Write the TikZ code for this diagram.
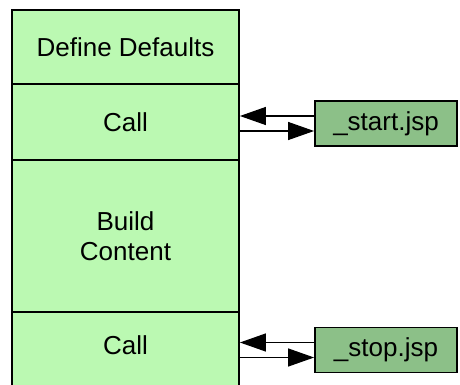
\documentclass[tikz,border=0pt]{standalone}
\usepackage{fontspec}
\setmainfont{Liberation Sans}
\usetikzlibrary{arrows.meta}
\definecolor{lightg}{RGB}{187,249,178}
\definecolor{darkg}{RGB}{140,192,136}
\begin{document}
\begin{tikzpicture}[x=1pt,y=-1pt,
  colbox/.style={draw=black,line width=1.8pt,fill=lightg,minimum width=227pt,inner sep=0pt,align=center,font=\fontsize{26}{30}\selectfont},
  jspbox/.style={draw=black,line width=1.8pt,fill=darkg,minimum width=142pt,minimum height=45pt,inner sep=0pt,font=\fontsize{26}{30}\selectfont},
  conn/.style={line width=1.2pt,-{Triangle[length=26pt,width=18pt]}}]
\useasboundingbox (0,0) rectangle (460,385);
\node[colbox,minimum height=74pt] (def) at (125.5,47) {Define Defaults};
\node[colbox,minimum height=76pt] (call1) at (125.5,122) {Call};
\node[colbox,minimum height=152pt] (build) at (125.5,236) {Build\\Content};
\node[colbox,minimum height=96pt] (call2) at (125.5,360) {\raisebox{30pt}{Call}};
\node[jspbox] (start) at (386,123.5) {\_start.jsp};
\node[jspbox] (stop) at (386,350) {\_stop.jsp};
\draw[conn] ([yshift=7.5pt]start.west) -- ([yshift=7.5pt]start.west -| call1.east);
\draw[conn] ([yshift=-7.5pt]start.west -| call1.east) -- ([yshift=-7.5pt]start.west);
\draw[conn] ([yshift=7.5pt]stop.west) -- ([yshift=7.5pt]stop.west -| call2.east);
\draw[conn] ([yshift=-7.5pt]stop.west -| call2.east) -- ([yshift=-7.5pt]stop.west);
\end{tikzpicture}
\end{document}
